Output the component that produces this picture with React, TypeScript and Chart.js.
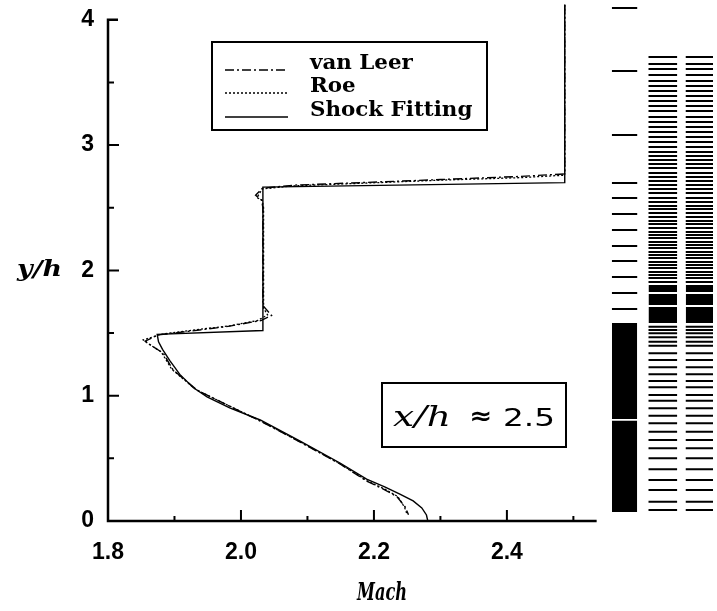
import React, { useEffect, useRef } from "react";
import { Chart, registerables } from "chart.js";

Chart.register(...registerables);

// ---- Series (Mach number vs y/h) ----
const seriesLabels = ["van Leer", "Roe", "Shock Fitting"];

const vanLeerMach = [2.487, 2.487, 2.42, 2.3, 2.179, 2.08, 2.032, 2.022, 2.031, 2.033, 2.033, 2.046, 2.03, 1.983, 1.923, 1.875, 1.856, 1.868, 1.883, 1.898, 1.934, 1.973, 2.029, 2.089, 2.149, 2.189, 2.217, 2.235, 2.247, 2.252];
const vanLeerY = [4.12, 2.77, 2.75, 2.725, 2.7, 2.68, 2.655, 2.6, 2.56, 2.5, 1.72, 1.64, 1.6, 1.555, 1.515, 1.485, 1.435, 1.39, 1.34, 1.205, 1.045, 0.942, 0.798, 0.63, 0.455, 0.319, 0.247, 0.192, 0.112, 0.05];

const roeMach = [2.487, 2.487, 2.42, 2.3, 2.179, 2.08, 2.032, 2.024, 2.032, 2.034, 2.034, 2.04, 2.025, 1.983, 1.923, 1.88, 1.853, 1.862, 1.88, 1.896, 1.932, 1.972, 2.029, 2.089, 2.149, 2.19, 2.218, 2.236, 2.246, 2.25];
const roeY = [4.12, 2.76, 2.74, 2.72, 2.695, 2.675, 2.65, 2.58, 2.56, 2.5, 1.7, 1.645, 1.6, 1.558, 1.52, 1.49, 1.445, 1.41, 1.35, 1.21, 1.05, 0.945, 0.8, 0.632, 0.457, 0.32, 0.25, 0.195, 0.11, 0.05];

const shockFitMach = [2.487, 2.487, 2.033, 2.033, 1.874, 1.876, 1.882, 1.893, 1.908, 1.928, 1.949, 1.983, 2.029, 2.089, 2.149, 2.189, 2.217, 2.239, 2.259, 2.272, 2.279, 2.281];
const shockFitY = [4.12, 2.7, 2.665, 1.52, 1.49, 1.43, 1.37, 1.28, 1.17, 1.065, 0.99, 0.902, 0.806, 0.638, 0.463, 0.335, 0.271, 0.215, 0.16, 0.104, 0.048, 0.0];

// ---- Grid-line columns at the right (y/h levels) ----
const coarseGridLevels = [4.094, 3.591, 3.081, 2.698, 2.578, 2.45, 2.322, 2.195, 2.075, 1.947, 1.82, 1.692];
const coarseGridBlocks = [[0.072, 0.8], [0.815, 1.58]];

const adaptedGridLevels = [3.703, 3.647, 3.607, 3.559, 3.512, 3.472, 3.432, 3.392, 3.352, 3.312, 3.272, 3.224, 3.184, 3.144, 3.104, 3.064, 3.024, 2.985, 2.945, 2.913, 2.881, 2.849, 2.817, 2.777, 2.745, 2.713, 2.682, 2.65, 2.618, 2.578, 2.546, 2.514, 2.49, 2.458, 2.426, 2.394, 2.37, 2.338, 2.306, 2.283, 2.259, 2.227, 2.203, 2.179, 2.147, 2.123, 2.099, 2.067, 2.043, 2.019, 1.987, 1.963, 1.939, 1.907, 1.551, 1.524, 1.498, 1.466, 1.431, 1.399, 1.338, 1.285, 1.227, 1.171, 1.117, 1.067, 1.006, 0.96, 0.899, 0.84, 0.78, 0.713, 0.646, 0.58, 0.5, 0.413, 0.327, 0.248, 0.154, 0.088];
const adaptedGridBlocks = [[1.58, 1.708], [1.724, 1.812], [1.828, 1.883]];

const gridColumnFrom = [2.558, 2.613, 2.669];
const gridColumnTo = [2.596, 2.656, 2.71];

// ---- Axes ----
const xTickLabels = [1.8, 2.0, 2.2, 2.4];
const xMinorTicks = [1.9, 2.1, 2.3, 2.5];
const yTickLabels = [0, 1, 2, 3, 4];
const yMinorTicks = [0.5, 1.5, 2.5, 3.5];
const xMin = 1.8;
const xMax = 2.71;
const xAxisEnd = 2.535;
const yMin = 0;
const yMax = 4.126;

const annotationParts = ["x/h", "\u2248", "2.5"];

function zip(xs: number[], ys: number[]) {
  return xs.map((x, i) => ({ x, y: ys[i] }));
}

function levelSegments(levels: number[], from: number, to: number) {
  const out: { x: number; y: number | null }[] = [];
  levels.forEach((l) => {
    out.push({ x: from, y: l }, { x: to, y: l }, { x: to, y: null });
  });
  return out;
}

const dashStyles: number[][] = [[9, 3, 2, 3], [2, 2], []];

function drawStretched(ctx: any, text: string, x: number, y: number, targetW: number) {
  const w = ctx.measureText(text).width;
  ctx.save();
  ctx.translate(x, y);
  ctx.scale(targetW / w, 1);
  ctx.fillText(text, 0, 0);
  ctx.restore();
}

const decorPlugin = {
  id: "decor",
  afterDatasetsDraw(chart: any) {
    const { ctx, scales, chartArea } = chart;
    const xs = scales.x;
    const ys = scales.y;
    const X = (v: number) => xs.getPixelForValue(v);
    const Y = (v: number) => ys.getPixelForValue(v);
    ctx.save();
    ctx.strokeStyle = "#000";
    ctx.fillStyle = "#000";
    ctx.setLineDash([]);
    // axis lines
    ctx.lineWidth = 2.5;
    ctx.beginPath();
    ctx.moveTo(X(xMin) + 10, Y(4));
    ctx.lineTo(X(xMin), Y(4));
    ctx.lineTo(X(xMin), Y(yMin));
    ctx.lineTo(X(xAxisEnd), Y(yMin));
    ctx.stroke();
    // ticks
    ctx.lineWidth = 2;
    ctx.beginPath();
    yTickLabels.forEach((v) => {
      if (v === 0 || v === 4) return;
      ctx.moveTo(X(xMin), Y(v));
      ctx.lineTo(X(xMin) + 11, Y(v));
    });
    yMinorTicks.forEach((v) => {
      ctx.moveTo(X(xMin), Y(v));
      ctx.lineTo(X(xMin) + 6, Y(v));
    });
    xTickLabels.forEach((v) => {
      if (v === xMin) return;
      ctx.moveTo(X(v), Y(yMin));
      ctx.lineTo(X(v), Y(yMin) - 11);
    });
    xMinorTicks.forEach((v) => {
      ctx.moveTo(X(v), Y(yMin));
      ctx.lineTo(X(v), Y(yMin) - 5);
    });
    ctx.stroke();

    // axis titles
    ctx.font = "bold italic 22px 'DejaVu Serif'";
    ctx.textAlign = "left";
    ctx.textBaseline = "middle";
    drawStretched(ctx, "y/h", 17, Y(2), 45);
    ctx.font = "bold italic 24px 'DejaVu Serif'";
    ctx.textAlign = "left";
    ctx.textBaseline = "alphabetic";
    drawStretched(ctx, "Mach", 357, 600, 50);

    // legend box
    const lx = chartArea.left + 104;
    const ly = chartArea.top + 38;
    ctx.lineWidth = 2;
    ctx.strokeRect(lx, ly, 275, 88);
    ctx.font = "bold 20px 'DejaVu Serif'";
    ctx.textAlign = "left";
    ctx.textBaseline = "alphabetic";
    const rowsY = [ly + 27, ly + 50, ly + 74];
    seriesLabels.forEach((label, i) => {
      ctx.setLineDash(dashStyles[i]);
      ctx.lineWidth = 1.3;
      ctx.beginPath();
      ctx.moveTo(lx + 13, rowsY[i] + 1);
      ctx.lineTo(lx + 76, rowsY[i] + 1);
      ctx.stroke();
      ctx.setLineDash([]);
      const w = ctx.measureText(label).width;
      drawStretched(ctx, label, lx + 98, rowsY[i], w * 1.07);
    });

    // annotation box
    ctx.lineWidth = 2;
    ctx.strokeRect(382, 383, 184, 64);
    ctx.textAlign = "left";
    ctx.textBaseline = "alphabetic";
    ctx.font = "italic 28px 'DejaVu Serif'";
    drawStretched(ctx, annotationParts[0], 393, 426, 58);
    ctx.font = "bold 24px 'DejaVu Sans'";
    drawStretched(ctx, annotationParts[1], 469, 424, 23);
    ctx.font = "25px 'DejaVu Sans'";
    drawStretched(ctx, annotationParts[2], 503, 426, 52);
    ctx.restore();
  },
};

export default function App() {
  const canvasRef = useRef<HTMLCanvasElement | null>(null);

  useEffect(() => {
    if (!canvasRef.current) return;
    const lineDs = (label: string, xs: number[], ys: number[], dash: number[], width: number) => ({
      label,
      data: zip(xs, ys),
      showLine: true,
      borderColor: "#000",
      borderWidth: width,
      borderDash: dash,
      pointRadius: 0,
      fill: false,
      tension: 0,
    });
    const datasets: any[] = [
      lineDs(seriesLabels[0], vanLeerMach, vanLeerY, dashStyles[0], 1.4),
      lineDs(seriesLabels[1], roeMach, roeY, dashStyles[1], 1.3),
      lineDs(seriesLabels[2], shockFitMach, shockFitY, dashStyles[2], 1.4),
    ];
    const columns = [
      { levels: coarseGridLevels, blocks: coarseGridBlocks },
      { levels: adaptedGridLevels, blocks: adaptedGridBlocks },
      { levels: adaptedGridLevels, blocks: adaptedGridBlocks },
    ];
    columns.forEach((c, i) => {
      datasets.push({
        label: "grid" + i,
        data: levelSegments(c.levels, gridColumnFrom[i], gridColumnTo[i]),
        showLine: true,
        spanGaps: false,
        borderColor: "#000",
        borderWidth: 2,
        pointRadius: 0,
        fill: false,
      });
      c.blocks.forEach((b, j) => {
        datasets.push({
          label: "block" + i + "_" + j,
          data: [
            { x: gridColumnFrom[i], y: b[1] },
            { x: gridColumnTo[i], y: b[1] },
          ],
          showLine: true,
          borderColor: "rgba(0,0,0,0)",
          borderWidth: 0,
          pointRadius: 0,
          backgroundColor: "#000",
          fill: { value: b[0] },
        });
      });
    });

    const tickFont = { family: "'Liberation Sans'", size: 23, weight: "bold" };

    const chart = new Chart(canvasRef.current, {
      type: "scatter",
      data: { datasets },
      options: {
        responsive: false,
        animation: false,
        layout: { padding: { top: 4, right: 4, left: 0, bottom: 0 } },
        plugins: { legend: { display: false }, tooltip: { enabled: false } },
        scales: {
          x: {
            type: "linear",
            min: xMin,
            max: xMax,
            afterFit: (s: any) => {
              s.height = 90;
              s.paddingLeft = 0;
              s.paddingRight = 0;
            },
            afterBuildTicks: (s: any) => {
              s.ticks = xTickLabels.map((v) => ({ value: v }));
            },
            grid: { display: false, drawTicks: false },
            border: { display: false },
            ticks: {
              padding: 18,
              color: "#000",
              font: tickFont,
              autoSkip: false,
              maxRotation: 0,
              callback: (v: any) => Number(v).toFixed(1),
            },
          },
          y: {
            type: "linear",
            min: yMin,
            max: yMax,
            afterFit: (s: any) => {
              s.width = 108;
              s.paddingTop = 0;
              s.paddingBottom = 0;
            },
            afterBuildTicks: (s: any) => {
              s.ticks = yTickLabels.map((v) => ({ value: v }));
            },
            grid: { display: false, drawTicks: false },
            border: { display: false },
            ticks: {
              padding: 14,
              color: "#000",
              font: tickFont,
              autoSkip: false,
              callback: (v: any) => String(v),
            },
          },
        },
      },
      plugins: [decorPlugin],
    } as any);
    return () => chart.destroy();
  }, []);

  return (
    <div style={{ position: "absolute", left: 0, top: 0, width: 717, height: 611, background: "#fff" }}>
      <canvas ref={canvasRef} width={717} height={611} />
    </div>
  );
}
